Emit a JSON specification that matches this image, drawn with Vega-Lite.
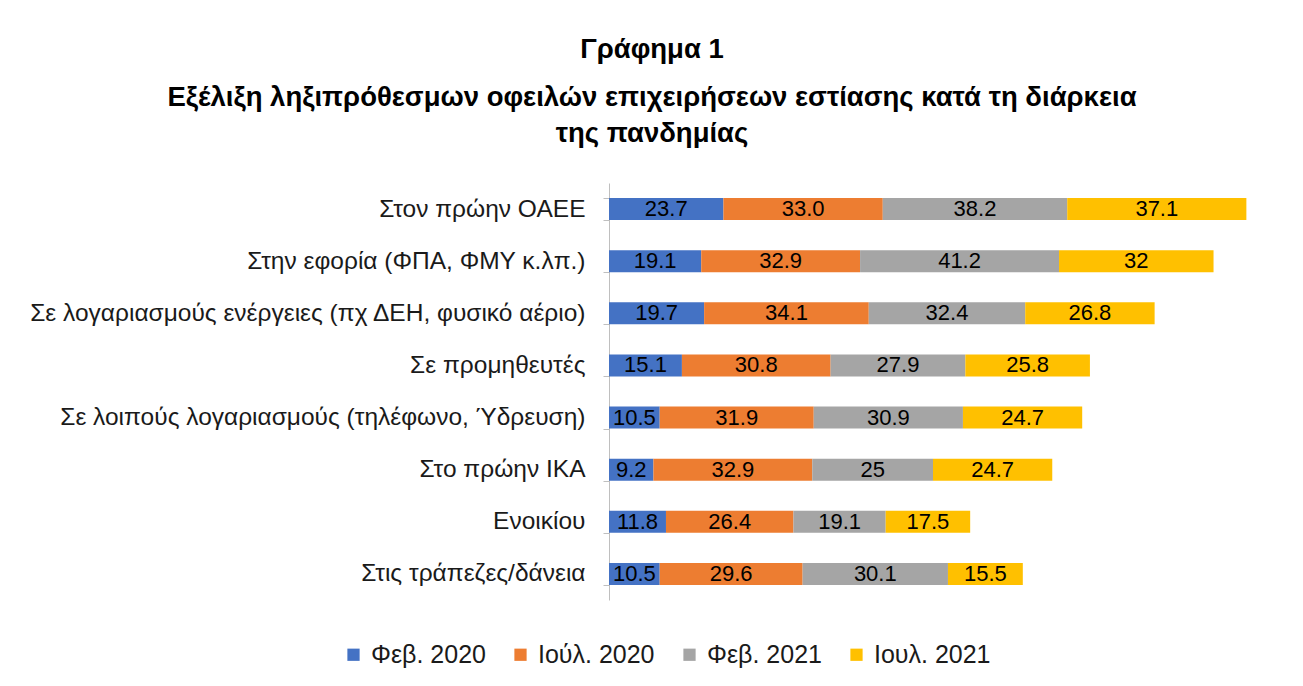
{
  "$schema": "https://vega.github.io/schema/vega-lite/v6.json",
  "autosize": {"type": "none"},
  "width": 676,
  "height": 417,
  "padding": {"left": 609, "top": 183, "right": 18, "bottom": 86},
  "background": "white",
  "title": {
    "text": "Γράφημα 1",
    "subtitle": ["Εξέλιξη ληξιπρόθεσμων οφειλών επιχειρήσεων εστίασης κατά τη διάρκεια", "της πανδημίας"],
    "anchor": "middle",
    "frame": "group",
    "dx": -295,
    "offset": 23,
    "font": "Liberation Sans",
    "fontSize": 27.5,
    "fontWeight": "bold",
    "color": "#000000",
    "subtitleFont": "Liberation Sans",
    "subtitleFontSize": 27.5,
    "subtitleFontWeight": "bold",
    "subtitleColor": "#000000",
    "subtitlePadding": 20,
    "subtitleLineHeight": 36
  },
  "data": {
    "values": [
      {"cat": "Στον πρώην ΟΑΕΕ", "s": "Φεβ. 2020", "o": 1, "v": 23.7, "lbl": "23.7"},
      {"cat": "Στον πρώην ΟΑΕΕ", "s": "Ιούλ. 2020", "o": 2, "v": 33.0, "lbl": "33.0"},
      {"cat": "Στον πρώην ΟΑΕΕ", "s": "Φεβ. 2021", "o": 3, "v": 38.2, "lbl": "38.2"},
      {"cat": "Στον πρώην ΟΑΕΕ", "s": "Ιουλ. 2021", "o": 4, "v": 37.1, "lbl": "37.1"},
      {"cat": "Στην εφορία (ΦΠΑ, ΦΜΥ κ.λπ.)", "s": "Φεβ. 2020", "o": 1, "v": 19.1, "lbl": "19.1"},
      {"cat": "Στην εφορία (ΦΠΑ, ΦΜΥ κ.λπ.)", "s": "Ιούλ. 2020", "o": 2, "v": 32.9, "lbl": "32.9"},
      {"cat": "Στην εφορία (ΦΠΑ, ΦΜΥ κ.λπ.)", "s": "Φεβ. 2021", "o": 3, "v": 41.2, "lbl": "41.2"},
      {"cat": "Στην εφορία (ΦΠΑ, ΦΜΥ κ.λπ.)", "s": "Ιουλ. 2021", "o": 4, "v": 32, "lbl": "32"},
      {"cat": "Σε λογαριασμούς ενέργειες (πχ ΔΕΗ, φυσικό αέριο)", "s": "Φεβ. 2020", "o": 1, "v": 19.7, "lbl": "19.7"},
      {"cat": "Σε λογαριασμούς ενέργειες (πχ ΔΕΗ, φυσικό αέριο)", "s": "Ιούλ. 2020", "o": 2, "v": 34.1, "lbl": "34.1"},
      {"cat": "Σε λογαριασμούς ενέργειες (πχ ΔΕΗ, φυσικό αέριο)", "s": "Φεβ. 2021", "o": 3, "v": 32.4, "lbl": "32.4"},
      {"cat": "Σε λογαριασμούς ενέργειες (πχ ΔΕΗ, φυσικό αέριο)", "s": "Ιουλ. 2021", "o": 4, "v": 26.8, "lbl": "26.8"},
      {"cat": "Σε προμηθευτές", "s": "Φεβ. 2020", "o": 1, "v": 15.1, "lbl": "15.1"},
      {"cat": "Σε προμηθευτές", "s": "Ιούλ. 2020", "o": 2, "v": 30.8, "lbl": "30.8"},
      {"cat": "Σε προμηθευτές", "s": "Φεβ. 2021", "o": 3, "v": 27.9, "lbl": "27.9"},
      {"cat": "Σε προμηθευτές", "s": "Ιουλ. 2021", "o": 4, "v": 25.8, "lbl": "25.8"},
      {"cat": "Σε λοιπούς λογαριασμούς (τηλέφωνο, Ύδρευση)", "s": "Φεβ. 2020", "o": 1, "v": 10.5, "lbl": "10.5"},
      {"cat": "Σε λοιπούς λογαριασμούς (τηλέφωνο, Ύδρευση)", "s": "Ιούλ. 2020", "o": 2, "v": 31.9, "lbl": "31.9"},
      {"cat": "Σε λοιπούς λογαριασμούς (τηλέφωνο, Ύδρευση)", "s": "Φεβ. 2021", "o": 3, "v": 30.9, "lbl": "30.9"},
      {"cat": "Σε λοιπούς λογαριασμούς (τηλέφωνο, Ύδρευση)", "s": "Ιουλ. 2021", "o": 4, "v": 24.7, "lbl": "24.7"},
      {"cat": "Στο πρώην ΙΚΑ ", "s": "Φεβ. 2020", "o": 1, "v": 9.2, "lbl": "9.2"},
      {"cat": "Στο πρώην ΙΚΑ ", "s": "Ιούλ. 2020", "o": 2, "v": 32.9, "lbl": "32.9"},
      {"cat": "Στο πρώην ΙΚΑ ", "s": "Φεβ. 2021", "o": 3, "v": 25, "lbl": "25"},
      {"cat": "Στο πρώην ΙΚΑ ", "s": "Ιουλ. 2021", "o": 4, "v": 24.7, "lbl": "24.7"},
      {"cat": "Ενοικίου", "s": "Φεβ. 2020", "o": 1, "v": 11.8, "lbl": "11.8"},
      {"cat": "Ενοικίου", "s": "Ιούλ. 2020", "o": 2, "v": 26.4, "lbl": "26.4"},
      {"cat": "Ενοικίου", "s": "Φεβ. 2021", "o": 3, "v": 19.1, "lbl": "19.1"},
      {"cat": "Ενοικίου", "s": "Ιουλ. 2021", "o": 4, "v": 17.5, "lbl": "17.5"},
      {"cat": "Στις τράπεζες/δάνεια", "s": "Φεβ. 2020", "o": 1, "v": 10.5, "lbl": "10.5"},
      {"cat": "Στις τράπεζες/δάνεια", "s": "Ιούλ. 2020", "o": 2, "v": 29.6, "lbl": "29.6"},
      {"cat": "Στις τράπεζες/δάνεια", "s": "Φεβ. 2021", "o": 3, "v": 30.1, "lbl": "30.1"},
      {"cat": "Στις τράπεζες/δάνεια", "s": "Ιουλ. 2021", "o": 4, "v": 15.5, "lbl": "15.5"}
    ]
  },
  "transform": [
    {"stack": "v", "groupby": ["cat"], "sort": [{"field": "o", "order": "ascending"}], "as": ["x0", "x1"]},
    {"calculate": "(datum.x0 + datum.x1) / 2", "as": "mid"}
  ],
  "encoding": {
    "y": {
      "field": "cat",
      "type": "nominal",
      "sort": null,
      "title": null,
      "scale": {"paddingInner": 0.58, "paddingOuter": 0.29},
      "axis": {
        "labelFont": "Liberation Sans",
        "labelFontSize": 24.5,
        "labelColor": "#1a1a1a",
        "labelPadding": 18,
        "labelLimit": 700,
        "tickBand": "extent",
        "tickSize": 6,
        "tickColor": "#BFBFBF",
        "domainColor": "#BFBFBF"
      }
    }
  },
  "layer": [
    {
      "mark": {"type": "bar", "stroke": null},
      "encoding": {
        "x": {"field": "x0", "type": "quantitative", "scale": {"domain": [0, 140], "nice": false}, "axis": null},
        "x2": {"field": "x1"},
        "color": {
          "field": "s",
          "type": "nominal",
          "sort": ["Φεβ. 2020", "Ιούλ. 2020", "Φεβ. 2021", "Ιουλ. 2021"],
          "scale": {"domain": ["Φεβ. 2020", "Ιούλ. 2020", "Φεβ. 2021", "Ιουλ. 2021"], "range": ["#4472C4", "#ED7D31", "#A5A5A5", "#FFC000"]},
          "legend": {
            "title": null,
            "orient": "none",
            "direction": "horizontal",
            "legendX": -268,
            "legendY": 459,
            "symbolType": "square",
            "symbolSize": 150,
            "symbolStrokeWidth": 0,
            "labelFont": "Liberation Sans",
            "labelFontSize": 25,
            "labelColor": "#1a1a1a",
            "labelOffset": 5,
            "columnPadding": 22,
            "labelLimit": 300
          }
        }
      }
    },
    {
      "mark": {"type": "text", "font": "Liberation Sans", "fontSize": 22, "color": "#000000", "baseline": "middle", "align": "center"},
      "encoding": {
        "x": {"field": "mid", "type": "quantitative"},
        "text": {"field": "lbl", "type": "nominal"}
      }
    }
  ],
  "config": {"view": {"stroke": null}}
}
